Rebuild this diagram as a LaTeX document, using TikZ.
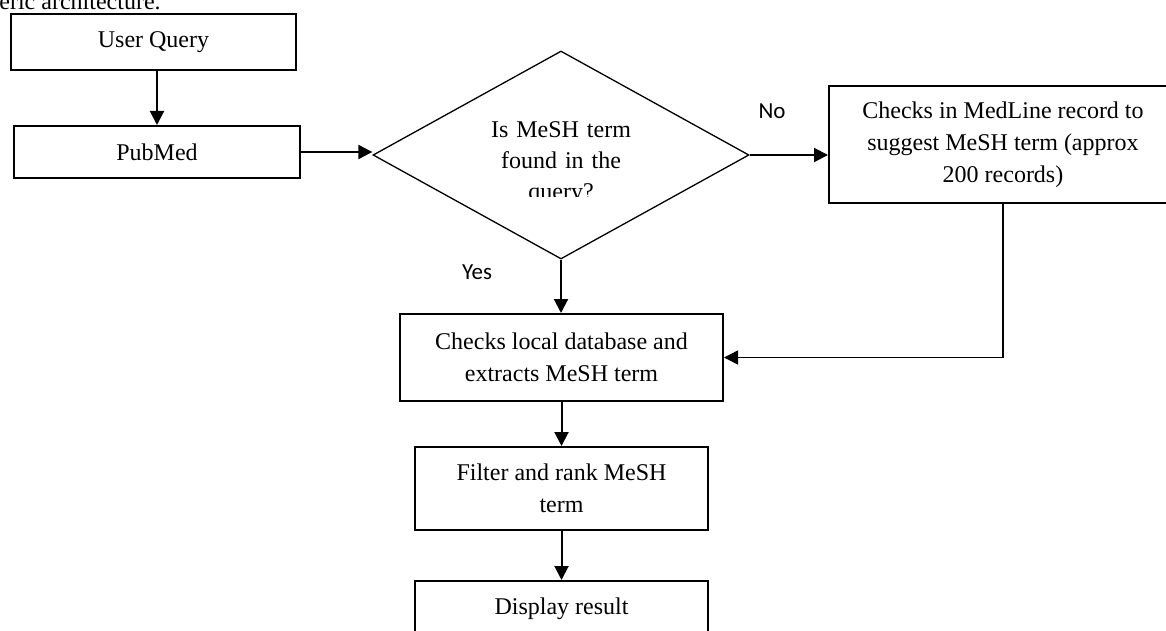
\documentclass[tikz,border=0pt]{standalone}
\usepackage{fontspec}
\setmainfont{Liberation Serif}
\newfontfamily\labelfont{Carlito}
\usetikzlibrary{arrows.meta,shapes.geometric}
\tikzset{>={Triangle[length=7pt,width=7pt]}}
\tikzset{box/.style={draw, line width=1pt, inner sep=0pt, align=center, font=\fontsize{12}{16}\selectfont}}
\tikzset{lbl/.style={inner sep=0pt, font=\labelfont\fontsize{11.5}{14}\selectfont}}

\begin{document}
\begin{tikzpicture}[x=0.5pt, y=-0.5pt]
\useasboundingbox (0,0) rectangle (1166,631);
%\draw [very thin, gray] (0,0) grid[step=50] (1166,631);
\node[anchor=base west, inner sep=0pt, font=\fontsize{12}{16}\selectfont] (title) at (-1,10) {eric architecture.};
% left column
\node[box, minimum width=142.5pt, minimum height=28pt] (query) at (153.5,42) {User Query};
\node[box, minimum width=143pt, minimum height=26pt] (pubmed) at (157,152) {PubMed};
% decision
\node[draw, diamond, line width=0.65pt, minimum width=188pt, minimum height=104pt, inner sep=0pt] (dmesh) at (561,155) {};
\begin{scope}
\clip (440,100) rectangle (680,196);
\node[anchor=base, inner sep=0pt, text width=120pt, align=center, font=\fontsize{12}{15.5}\selectfont] (dtext) at (561,137) {Is MeSH term\\ found in the\\ query?};
\end{scope}
\node[box, minimum width=174pt, minimum height=58.5pt] (medline) at (1003,144.5) {Checks in MedLine record to\\ suggest MeSH term (approx\\ 200 records)};
% middle column
\node[box, minimum width=161.5pt, minimum height=43.5pt] (localdb) at (561.5,357.5) {Checks local database and\\ extracts MeSH term};
\node[box, minimum width=146.5pt, minimum height=41.5pt] (filter) at (561.5,488.5) {Filter and rank MeSH\\ term};
\node[box, minimum width=146.5pt, minimum height=28pt] (display) at (561.5,609) {Display result};
\node[lbl] (no) at (772,111) {No};
\node[lbl] (yes) at (477,272) {Yes};
% arrows
\draw[->, line width=1pt] (pubmed.north |- query.south) -- (pubmed.north);
\draw[->, line width=1pt] (pubmed.east) -- (pubmed.east -| dmesh.west);
\draw[->, line width=1pt] (dmesh.east) -- (medline.west |- dmesh.east);
\draw[->, line width=1pt] (dmesh.south) -- (dmesh.south |- localdb.north);
\draw[->, line width=0.75pt] (medline.south) |- (localdb.east);
\draw[->, line width=1pt] (localdb) -- (filter);
\draw[->, line width=1pt] (filter) -- (display);
\end{tikzpicture}
\end{document}
